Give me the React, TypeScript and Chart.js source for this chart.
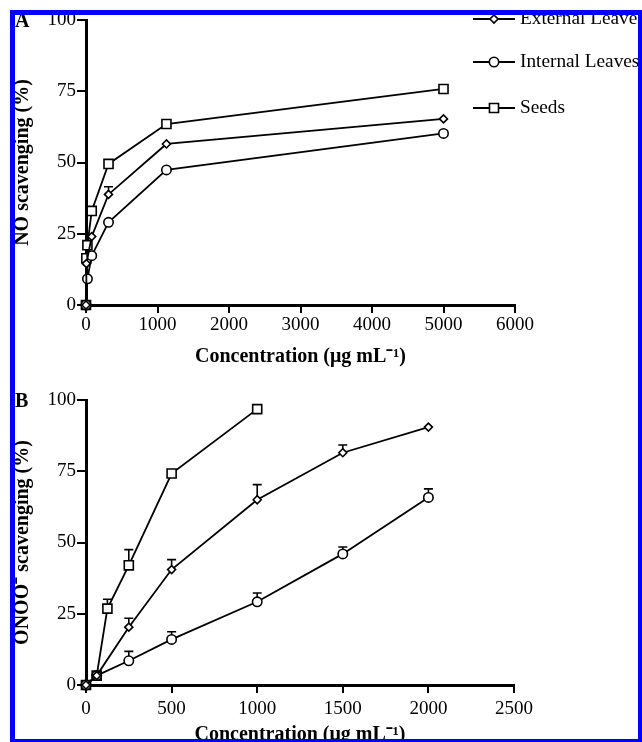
import React, { useEffect, useRef } from 'react';
import { Chart, registerables } from 'chart.js';

Chart.register(...registerables);
Chart.defaults.font.family = '"Liberation Serif", "Times New Roman", serif';
Chart.defaults.color = '#000';

// ---------- Data ----------
const seriesLabels = ['External Leaves', 'Internal Leaves', 'Seeds'];

// Panel A: NO scavenging
const concA = [0, 5, 20, 80, 315, 1125, 5000];
const extLeavesA = [0, 14.5, null, 24, 38.8, 56.5, 65.3];
const intLeavesA = [0, null, 9.2, 17.3, 29, 47.4, 60.2];
const seedsA = [0, 16.4, 21, 33, 49.5, 63.5, 75.8];
const extErrA = [0, 0, 0, 0, 2.7, 0, 0];
const intErrA = [0, 0, 0, 0, 0, 0, 0];
const seedsErrA = [0, 0, 0, 0, 0, 0, 0];
const xTicksA = [0, 6000, 1000];

// Panel B: ONOO- scavenging
const concB = [0, 62.5, 125, 250, 500, 1000, 1500, 2000];
const extLeavesB = [0, 3.3, null, 20.3, 40.5, 65, 81.5, 90.5];
const intLeavesB = [0, 3.3, null, 8.5, 16, 29.2, 46, 65.8];
const seedsB = [0, 3.3, 26.8, 42, 74.2, 96.8, null, null];
const extErrB = [0, 0, 0, 3.1, 3.5, 5.3, 2.7, 0];
const intErrB = [0, 0, 0, 3.3, 2.7, 3.1, 2.4, 3];
const seedsErrB = [0, 0, 3.3, 5.5, 0.6, 0, 0, 0];
const xTicksB = [0, 2500, 500];

const yTicks = [0, 100, 25];

// ---------- Styles ----------
const pointStyles = ['rectRot', 'circle', 'rect'];
const pointRadii = [4, 4.7, 6.4];

function buildDatasets(conc: number[], series: (number | null)[][], errs: number[][]) {
  return series.map((vals, si) => {
    const pts: { x: number; y: number }[] = [];
    const e: number[] = [];
    vals.forEach((v, i) => {
      if (v !== null && v !== undefined) {
        pts.push({ x: conc[i], y: v });
        e.push(errs[si][i]);
      }
    });
    return {
      label: seriesLabels[si],
      data: pts,
      errors: e,
      borderColor: '#000',
      borderWidth: 1.8,
      pointStyle: pointStyles[si],
      pointRadius: pointRadii[si],
      pointBorderWidth: 1.6,
      pointBackgroundColor: '#fff',
      pointBorderColor: '#000',
      tension: 0,
      clip: false,
      fill: false,
    } as any;
  });
}

const errorBarPlugin = {
  id: 'errorBars',
  beforeDatasetsDraw(chart: any) {
    const { ctx, scales } = chart;
    const x = scales.x;
    const y = scales.y;
    ctx.save();
    ctx.strokeStyle = '#000';
    ctx.lineWidth = 1.6;
    chart.data.datasets.forEach((ds: any) => {
      const err = ds.errors as number[];
      if (!err) return;
      ds.data.forEach((p: any, i: number) => {
        if (!err[i]) return;
        const px = x.getPixelForValue(p.x);
        const py = y.getPixelForValue(p.y);
        const pt = y.getPixelForValue(p.y + err[i]);
        ctx.beginPath();
        ctx.moveTo(px, py);
        ctx.lineTo(px, pt);
        ctx.moveTo(px - 4.5, pt);
        ctx.lineTo(px + 4.5, pt);
        ctx.stroke();
      });
    });
    ctx.restore();
  },
};

const panelLabelPlugin = {
  id: 'panelLabel',
  afterDraw(chart: any, _args: any, opts: any) {
    const { ctx } = chart;
    ctx.save();
    ctx.font = 'bold 20px "Liberation Serif", serif';
    ctx.fillStyle = '#000';
    ctx.textAlign = 'left';
    ctx.textBaseline = 'middle';
    ctx.fillText(opts.text, opts.x, opts.y);
    ctx.restore();
  },
};

function drawMarker(ctx: CanvasRenderingContext2D, style: string, cx: number, cy: number, r: number) {
  ctx.beginPath();
  if (style === 'circle') {
    ctx.arc(cx, cy, r, 0, Math.PI * 2);
  } else if (style === 'rect') {
    const s = r * Math.SQRT1_2;
    ctx.rect(cx - s, cy - s, 2 * s, 2 * s);
  } else {
    ctx.moveTo(cx - r, cy);
    ctx.lineTo(cx, cy - r);
    ctx.lineTo(cx + r, cy);
    ctx.lineTo(cx, cy + r);
    ctx.closePath();
  }
  ctx.fillStyle = '#fff';
  ctx.fill();
  ctx.lineWidth = 1.6;
  ctx.strokeStyle = '#000';
  ctx.stroke();
}

const customLegendPlugin = {
  id: 'customLegend',
  afterDraw(chart: any, _args: any, opts: any) {
    if (!opts || !opts.show) return;
    const { ctx } = chart;
    const rows = [19, 62, 108];
    ctx.save();
    chart.data.datasets.forEach((ds: any, i: number) => {
      const y = rows[i];
      ctx.beginPath();
      ctx.moveTo(473, y);
      ctx.lineTo(515, y);
      ctx.lineWidth = 2;
      ctx.strokeStyle = '#000';
      ctx.stroke();
      drawMarker(ctx, ds.pointStyle, 494, y, ds.pointRadius);
      ctx.fillStyle = '#000';
      ctx.font = '19.3px "Liberation Serif", serif';
      ctx.textAlign = 'left';
      ctx.textBaseline = 'middle';
      ctx.fillText(ds.label, 520, y);
    });
    ctx.restore();
  },
};

function makeOptions(
  xTicks: number[],
  yTitle: string,
  padding: any,
  xAxisHeight: number,
  xTickPad: number,
  xTitleBottom: number,
  label: any,
  showLegend: boolean
) {
  return {
    responsive: false,
    maintainAspectRatio: false,
    animation: false,
    layout: { padding },
    plugins: {
      legend: { display: false },
      tooltip: { enabled: false },
      panelLabel: label,
      customLegend: { show: showLegend },
    },
    scales: {
      x: {
        type: 'linear',
        min: xTicks[0],
        max: xTicks[1],
        ticks: {
          stepSize: xTicks[2],
          color: '#000',
          font: { size: 19 },
          padding: xTickPad,
          maxRotation: 0,
          autoSkip: false,
          callback: (v: any) => String(v),
        },
        grid: { drawOnChartArea: false, color: '#000', lineWidth: 2, tickLength: 8 },
        border: { color: '#000', width: 3 },
        title: {
          display: true,
          text: 'Concentration (μg mL⁻¹)',
          color: '#000',
          font: { size: 20, weight: 'bold' },
          padding: { top: 0, bottom: xTitleBottom },
        },
        afterFit: (s: any) => {
          s.height = xAxisHeight;
        },
      },
      y: {
        type: 'linear',
        min: yTicks[0],
        max: yTicks[1],
        ticks: {
          stepSize: yTicks[2],
          color: '#000',
          font: { size: 19 },
          padding: 1,
          callback: (v: any) => String(v),
        },
        grid: { drawOnChartArea: false, color: '#000', lineWidth: 2, tickLength: 9 },
        border: { color: '#000', width: 3 },
        title: {
          display: true,
          text: yTitle,
          color: '#000',
          font: { size: 20, weight: 'bold' },
          padding: { top: 11, bottom: 0 },
        },
        afterFit: (s: any) => {
          s.width = 86;
        },
      },
    },
  } as any;
}

export default function App() {
  const refA = useRef<HTMLCanvasElement>(null);
  const refB = useRef<HTMLCanvasElement>(null);

  useEffect(() => {
    const plugins = [errorBarPlugin, panelLabelPlugin, customLegendPlugin];
    const chartA = new Chart(refA.current as HTMLCanvasElement, {
      type: 'line',
      data: {
        datasets: buildDatasets(concA, [extLeavesA, intLeavesA, seedsA], [extErrA, intErrA, seedsErrA]),
      },
      options: makeOptions(
        xTicksA,
        'NO scavenging (%)',
        { left: 0, right: 127, top: 20, bottom: 0 },
        65,
        1,
        1,
        { text: 'A', x: 15, y: 22 },
        true
      ),
      plugins,
    } as any);
    const chartB = new Chart(refB.current as HTMLCanvasElement, {
      type: 'line',
      data: {
        datasets: buildDatasets(concB, [extLeavesB, intLeavesB, seedsB], [extErrB, intErrB, seedsErrB]),
      },
      options: makeOptions(
        xTicksB,
        'ONOO⁻ scavenging (%)',
        { left: 0, right: 128, top: 30, bottom: 0 },
        85,
        5,
        23,
        { text: 'B', x: 15, y: 32 },
        false
      ),
      plugins,
    } as any);
    return () => {
      chartA.destroy();
      chartB.destroy();
    };
  }, []);

  const blue = '#0000ff';
  return (
    <div
      style={{
        position: 'absolute',
        left: 0,
        top: 0,
        width: 642,
        height: 742,
        overflow: 'hidden',
        background: '#fff',
      }}
    >
      <canvas ref={refA} width={642} height={370} style={{ position: 'absolute', left: 0, top: 0 }} />
      <canvas ref={refB} width={642} height={400} style={{ position: 'absolute', left: 0, top: 370 }} />
      <div style={{ position: 'absolute', left: 10, top: 10, width: 632, height: 5, background: blue }} />
      <div style={{ position: 'absolute', left: 10, top: 10, width: 5, height: 732, background: blue }} />
      <div style={{ position: 'absolute', left: 638, top: 10, width: 4, height: 732, background: blue }} />
      <div style={{ position: 'absolute', left: 10, top: 739, width: 632, height: 3, background: blue }} />
    </div>
  );
}
